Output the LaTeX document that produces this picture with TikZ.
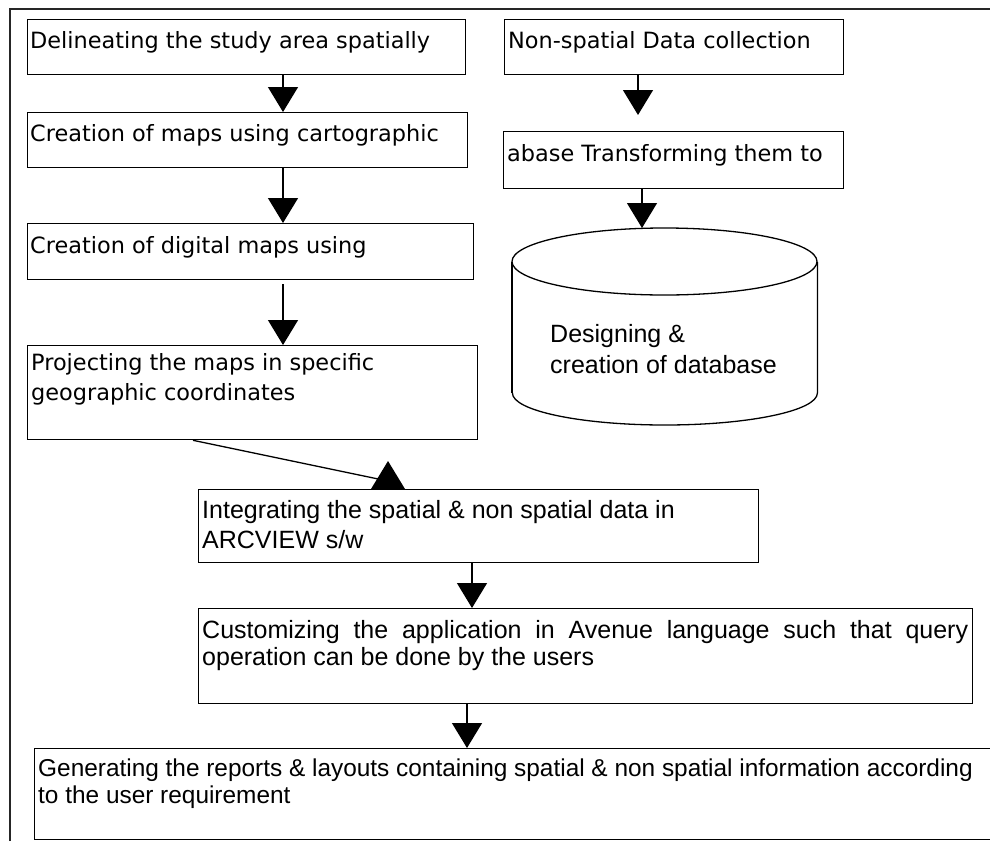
\documentclass[tikz,border=0pt]{standalone}
\usepackage{fontspec}
\setmainfont{Liberation Sans}
\newfontfamily\upfont{DejaVu Sans}
\newfontfamily\lowfont{Liberation Sans}
\usetikzlibrary{arrows.meta}
\begin{document}
\begin{tikzpicture}[x=1pt,y=-1pt,
  box/.style={draw=black, line width=1.3pt, inner sep=0pt, anchor=north west},
  area/.style={inner sep=0pt, anchor=north west},
  uptxt/.style={anchor=base west, inner sep=0pt, font=\upfont\fontsize{22.4}{30}\selectfont},
  lowtxt/.style={anchor=base west, inner sep=0pt, font=\lowfont\fontsize{25}{27}\selectfont},
  arr/.style={line width=1.3pt, -{Triangle[width=30pt,length=25pt]}},
  conn/.style={line width=1.3pt},
  frameline/.style={line width=1.6pt, draw=black!85}]
\useasboundingbox (0,0) rectangle (990,841);

% outer frame
\draw[frameline] (10,841) -- (10,9) -- (990,9);

% boxes
\node[box, minimum width=438pt, minimum height=55pt] (b1) at (27,19) {};
\node[box, minimum width=440pt, minimum height=55pt] (b2) at (27,112) {};
\node[box, minimum width=446pt, minimum height=56pt] (b3) at (27,223) {};
\node[box, minimum width=450pt, minimum height=94pt] (b4) at (27,345) {};
\node[box, minimum width=339pt, minimum height=55pt] (r1) at (504,19) {};
\node[box, minimum width=340pt, minimum height=57pt] (r2) at (503,131) {};
\node[area, minimum width=305pt, minimum height=197pt] (db) at (512,228) {};
\node[box, minimum width=560pt, minimum height=73pt] (b5) at (198,489) {};
\node[box, minimum width=774pt, minimum height=95pt] (b6) at (198,608) {};
\node[box, minimum width=970pt, minimum height=91pt] (b7) at (34,748) {};

% cylinder
\draw[conn] (664.5,261.5) ellipse [x radius=152.5pt, y radius=33.5pt];
\draw[conn] (db.north west |- 0,262) -- (db.north west |- 0,393);
\draw[conn] (db.north east |- 0,262) -- (db.north east |- 0,393)
  arc[start angle=0, end angle=-180, x radius=152.5pt, y radius=32pt];

% texts
\node[uptxt] (t1) at ([shift={(3pt,-29pt)}]b1.north west) {Delineating the study area spatially};
\node[uptxt] (t2) at ([shift={(3pt,-29pt)}]b2.north west) {Creation of maps using cartographic};
\node[uptxt] (t3) at ([shift={(3pt,-30pt)}]b3.north west) {Creation of digital maps using};
\node[uptxt] (t4) at ([shift={(4pt,-25pt)}]b4.north west) {\begin{tabular}[t]{@{}l@{}}Projecting the maps in specific\\ geographic coordinates\end{tabular}};
\node[uptxt] (tr1) at ([shift={(4pt,-29pt)}]r1.north west) {Non-spatial Data collection};
\node[uptxt] (tr2) at ([shift={(4pt,-30pt)}]r2.north west) {abase Transforming them to};
\node[lowtxt] (tdb) at ([shift={(38pt,-114pt)}]db.north west) {\begin{tabular}[t]{@{}l@{}}Designing \&\\[4pt] creation of database\end{tabular}};
\node[lowtxt] (t5) at ([shift={(4pt,-29pt)}]b5.north west) {\begin{tabular}[t]{@{}l@{}}Integrating the spatial \& non spatial data in\\[3pt] ARCVIEW s/w\end{tabular}};
\node[lowtxt] (t6) at ([shift={(4pt,-30pt)}]b6.north west) {\begin{tabular}[t]{@{}l@{}}\makebox[766pt][s]{Customizing the application in Avenue language such that query}\\ operation can be done by the users\end{tabular}};
\node[lowtxt, font=\lowfont\fontsize{24.4}{27}\selectfont] (t7) at ([shift={(4pt,-28pt)}]b7.north west) {\begin{tabular}[t]{@{}l@{}}Generating the reports \& layouts containing spatial \& non spatial information according\\ to the user requirement\end{tabular}};

% connectors
\coordinate (xa) at (283,0);
\coordinate (xb) at (638,0);
\coordinate (xc) at (642,0);
\coordinate (xd) at (472,0);
\coordinate (xe) at (467,0);
\coordinate (b3low) at ([yshift=-4pt]b3.south);
\coordinate (r2top) at ([yshift=16pt]r2.north);
\draw[arr] (b1.south -| xa) -- (b2.north -| xa);
\draw[arr] (b2.south -| xa) -- (b3.north -| xa);
\draw[arr] (b3low -| xa) -- (b4.north -| xa);
\draw[arr] (r1.south -| xb) -- (r2top -| xb);
\draw[arr] (r2.south -| xc) -- (db.north -| xc);
\draw[conn] ([xshift=166pt]b4.south west) -- ([shift={(185pt,9pt)}]b5.north west);
\fill ([shift={(190pt,28pt)}]b5.north west) -- ([xshift=173pt]b5.north west) -- ([xshift=207pt]b5.north west) -- cycle;
\draw[arr] (b5.south -| xd) -- (b6.north -| xd);
\draw[arr] (b6.south -| xe) -- (b7.north -| xe);
\end{tikzpicture}
\end{document}
